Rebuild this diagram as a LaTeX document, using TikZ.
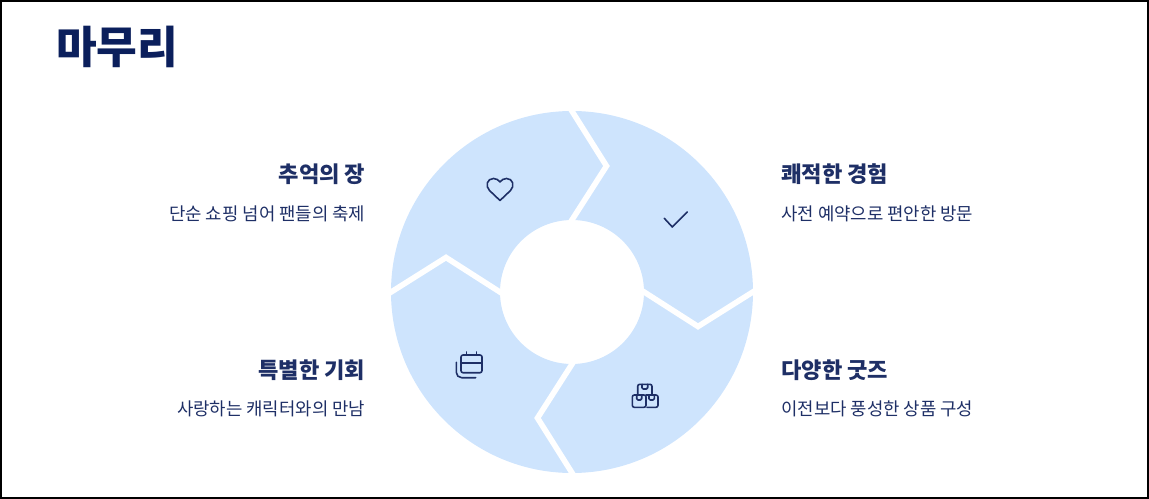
\documentclass[tikz,border=0pt]{standalone}
\usepackage{fontspec}
\setmainfont{Noto Sans CJK KR}
\definecolor{ringblue}{HTML}{CEE4FD}
\definecolor{titlenavy}{HTML}{0B1F5C}
\definecolor{textnavy}{HTML}{1E2F66}
\begin{document}
\begin{tikzpicture}[x = .75pt, y = -.75pt]
    \tikzstyle{every node} = [inner sep = 0pt, text = textnavy];
    \tikzstyle{heading} = [font = \fontsize{16.6pt}{20pt}\selectfont\bfseries];
    \tikzstyle{subtext} = [font = \fontsize{13.35pt}{16pt}\selectfont];
    \tikzstyle{seam} = [draw = white, line width = 4.2pt, line join = miter];
    \tikzstyle{icon} = [draw = textnavy, line width = 1.2pt, line cap = round, line join = round];
    % frame:
    \useasboundingbox (0,0) rectangle (1149,499);
    \draw[black, line width = 1.5pt] (1,1) rectangle (1148,498);
    % title:
    \node[anchor = base west, text = titlenavy, font = \fontsize{33.2pt}{40pt}\selectfont\bfseries] (title) at (56,64) {마무리};
    % ring:
    \coordinate (o) at (572,292);
    \fill[ringblue, even odd rule] (o) circle [radius = 181] (o) circle [radius = 72];
    % seam points:
    \coordinate (a0) at (570,108);
    \coordinate (a1) at (606.5,166);
    \coordinate (a2) at (570,223);
    \coordinate (b0) at (756,290);
    \coordinate (b1) at (698,326.5);
    \coordinate (b2) at (641,290);
    \coordinate (c0) at (574,476);
    \coordinate (c1) at (537.5,418);
    \coordinate (c2) at (574,361);
    \coordinate (d0) at (388,294);
    \coordinate (d1) at (446,257.5);
    \coordinate (d2) at (503,294);
    % seams:
    \draw[seam] (a0) -- (a1) -- (a2);
    \draw[seam] (b0) -- (b1) -- (b2);
    \draw[seam] (c0) -- (c1) -- (c2);
    \draw[seam] (d0) -- (d1) -- (d2);
    % labels:
    \node[heading, anchor = base east] (memory) at (365.5,183) {추억의 장};
    \node[subtext, anchor = base east] (memorysub) at (365.5,220) {단순 쇼핑 넘어 팬들의 축제};
    \node[heading, anchor = base west] (comfort) at (781,183) {쾌적한 경험};
    \node[subtext, anchor = base west] (comfortsub) at (781,220) {사전 예약으로 편안한 방문};
    \node[heading, anchor = base east] (chance) at (365.5,378) {특별한 기회};
    \node[subtext, anchor = base east] (chancesub) at (365.5,415) {사랑하는 캐릭터와의 만남};
    \node[heading, anchor = base west] (goods) at (781,378) {다양한 굿즈};
    \node[subtext, anchor = base west] (goodssub) at (781,415) {이전보다 풍성한 상품 구성};
    % heart:
    \draw[icon] (500,200.5) -- (489.5,190.5) .. controls (485,186) and (487,178.5) .. (493.5,178.5) .. controls (496.5,178.5) and (498.5,180) .. (500,182) .. controls (501.5,180) and (503.5,178.5) .. (506.5,178.5) .. controls (513,178.5) and (515,186) .. (510.5,190.5) -- cycle;
    % check:
    \draw[icon] (664.3,218.3) -- (672.3,227) -- (687.3,212);
    % calendar:
    \draw[icon, rounded corners = 1.5pt] (461,355) rectangle (482,372.7);
    \draw[icon] (461,362.7) -- (482,362.7);
    \draw[icon] (466.3,352) -- (466.3,355);
    \draw[icon] (476.3,352) -- (476.3,355);
    \draw[icon, rounded corners = 4pt] (456.3,362.3) -- (456.3,377.7) -- (475.7,377.7);
    % boxes:
    \draw[icon, rounded corners = 1.5pt] (637.7,395) -- (637.7,384.3) -- (652,384.3) -- (652,395);
    \draw[icon, rounded corners = 1pt] (642,384.3) -- (642,389) -- (647.7,389) -- (647.7,384.3);
    \draw[icon, rounded corners = 1.5pt] (632.3,395) rectangle (646,407.3);
    \draw[icon, rounded corners = 1pt] (636.7,395) -- (636.7,400) -- (641.7,400) -- (641.7,395);
    \draw[icon, rounded corners = 1.5pt] (646,395) -- (658,395) -- (658,407.3) -- (647,407.3);
    \draw[icon, rounded corners = 1pt] (649,395) -- (649,400) -- (654.3,400) -- (654.3,395);
\end{tikzpicture}
\end{document}
